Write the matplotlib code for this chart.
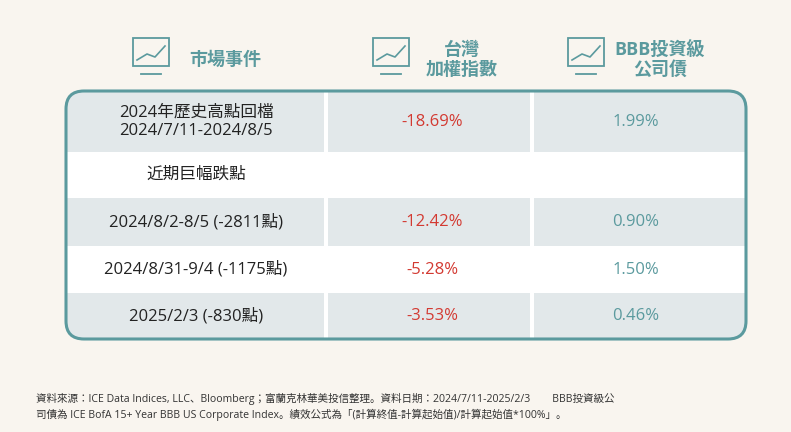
import matplotlib.pyplot as plt
from matplotlib import font_manager
from matplotlib.patches import FancyBboxPatch, Rectangle

_names = {f.name for f in font_manager.fontManager.ttflist}
_cjk = [n for n in ["Noto Sans CJK TC", "Noto Sans CJK JP", "Noto Sans CJK SC", "Noto Sans CJK KR"] if n in _names]
plt.rcParams["font.family"] = ["Open Sans"] + _cjk + ["DejaVu Sans"]

headers = ["市場事件", "台灣\n加權指數", "BBB投資級\n公司債"]
events = ["2024年歷史高點回檔\n2024/7/11-2024/8/5", "近期巨幅跌點",
          "2024/8/2-8/5 (-2811點)", "2024/8/31-9/4 (-1175點)", "2025/2/3 (-830點)"]
taiex = ["-18.69%", "", "-12.42%", "-5.28%", "-3.53%"]
bbb = ["1.99%", "", "0.90%", "1.50%", "0.46%"]
note = ("資料來源：ICE Data Indices, LLC、Bloomberg；富蘭克林華美投信整理。資料日期：2024/7/11-2025/2/3        BBB投資級公\n"
        "司債為 ICE BofA 15+ Year BBB US Corporate Index。績效公式為「(計算終值-計算起始值)/計算起始值*100%」。")

BG = "#f9f5ef"
TEAL = "#5b9a9e"
GRAY = "#e2e8ea"
RED = "#d33a32"

fig = plt.figure(figsize=(7.91, 4.32), dpi=100, facecolor=BG)
ax = fig.add_axes([0, 0, 1, 1])
ax.set_xlim(0, 791)
ax.set_ylim(432, 0)
ax.axis("off")

x0, x1 = 66, 746
row_edges = [91, 152, 198, 246, 293, 339]
col_edges = [x0, 326, 532, x1]
shaded = [True, False, True, False, True]

def body(**kw):
    return FancyBboxPatch((x0, 91), x1 - x0, 248, boxstyle="round,pad=0,rounding_size=18", **kw)

ax.add_patch(body(fc="white", ec="none", zorder=1))
clip = body(fc="none", ec="none")
ax.add_patch(clip)
for i, sh in enumerate(shaded):
    if not sh:
        continue
    y0, y1 = row_edges[i], row_edges[i + 1]
    for j in range(3):
        a = col_edges[j] + (0 if j == 0 else 2)
        b = col_edges[j + 1] - (0 if j == 2 else 2)
        r = Rectangle((a, y0), b - a, y1 - y0, fc=GRAY, ec="none", zorder=2)
        ax.add_patch(r)
        r.set_clip_path(clip)
ax.add_patch(body(fc="none", ec=TEAL, lw=2.2, zorder=5))

# header
hx = [225, 462, 660]
for j, h in enumerate(headers):
    ax.text(hx[j], 60, h, ha="center", va="center", fontsize=13, color=TEAL,
            fontweight="bold", linespacing=1.15)

# simple icons
def icon(cx, cy):
    ax.add_patch(Rectangle((cx - 22, cy - 18), 36, 28, fc="none", ec=TEAL, lw=1.3))
    ax.plot([cx - 18, cx - 8, cx, cx + 10], [cy + 4, cy - 2, cy + 1, cy - 10], color=TEAL, lw=1.2)
    ax.plot([cx - 14, cx + 6], [cy + 18, cy + 18], color=TEAL, lw=1.3)
for cx in [155, 395, 590]:
    icon(cx, 56)

cx_val = [196, 432, 636]
for i in range(5):
    yc = (row_edges[i] + row_edges[i + 1]) / 2
    ax.text(cx_val[0], yc, events[i], ha="center", va="center", fontsize=12,
            color="#222222", linespacing=1.2, zorder=6)
    ax.text(cx_val[1], yc, taiex[i], ha="center", va="center", fontsize=12, color=RED, zorder=6)
    ax.text(cx_val[2], yc, bbb[i], ha="center", va="center", fontsize=12, color=TEAL, zorder=6)

ax.text(36, 407, note, ha="left", va="center", fontsize=7.6, color="#333333", linespacing=1.35)

fig.savefig("out.png", dpi=100, facecolor=BG)
